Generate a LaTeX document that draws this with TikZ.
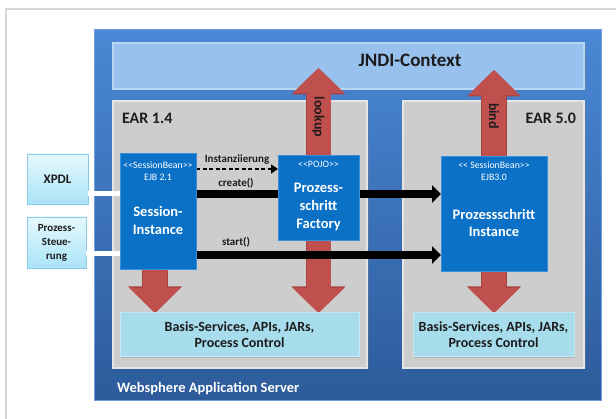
\documentclass[tikz,border=0pt]{standalone}
\usepackage{fontspec}
\setmainfont{Carlito}
\usetikzlibrary{shadows,arrows.meta}
\pgfdeclarelayer{bg}\pgfdeclarelayer{arr}\pgfsetlayers{bg,arr,main}
\definecolor{srvtop}{HTML}{4A88D5}
\definecolor{srvbot}{HTML}{2D5B9B}
\definecolor{srvedge}{HTML}{6FA0DE}
\definecolor{jndifill}{HTML}{99C1EE}
\definecolor{jndiedge}{HTML}{B9D5F4}
\definecolor{earfill}{HTML}{CDCDCD}
\definecolor{earedge}{HTML}{E6E6E6}
\definecolor{bean}{HTML}{0A71C6}
\definecolor{beanedge}{HTML}{3A8FDA}
\definecolor{redf}{HTML}{C0504D}
\definecolor{rede}{HTML}{A8433F}
\definecolor{basisfill}{HTML}{A6DCEC}
\definecolor{basisedge}{HTML}{C4E8F3}
\definecolor{ctop}{HTML}{E6F8FD}
\definecolor{cbot}{HTML}{A9E4F7}
\definecolor{cedge}{HTML}{8CCBE1}
\definecolor{framec}{HTML}{D3D7DE}
\definecolor{ink}{HTML}{1C1C1C}
\def\dlt{<\kern0pt<}
\def\dgt{>\kern0pt>}
\newcommand\fsz[2]{\fontsize{#1}{#2}\selectfont}
\begin{document}
\begin{tikzpicture}[x=1pt,y=-1pt,
  every node/.style={inner sep=0pt, outer sep=0pt},
  srvbox/.style={rectangle, draw=srvedge, line width=1pt, top color=srvtop, bottom color=srvbot},
  jndibox/.style={rectangle, draw=jndiedge, line width=1.2pt, fill=jndifill,
     drop shadow={opacity=0.35, shadow xshift=1.5pt, shadow yshift=-1.5pt}},
  earbox/.style={rectangle, draw=earedge, line width=1.5pt, fill=earfill,
     drop shadow={opacity=0.35, shadow xshift=1.5pt, shadow yshift=-1.5pt}},
  beanbox/.style={rectangle, draw=beanedge, line width=0.8pt, fill=bean,
     drop shadow={opacity=0.3, shadow xshift=1.2pt, shadow yshift=-1.2pt}},
  basisbox/.style={rectangle, draw=basisedge, line width=1pt, fill=basisfill, text=ink,
     font=\fsz{14}{16}\bfseries, align=center,
     drop shadow={opacity=0.3, shadow xshift=1.2pt, shadow yshift=-1.2pt}},
  extbox/.style={rectangle, draw=cedge, line width=0.8pt, top color=ctop, bottom color=cbot,
     text=ink, align=center},
  stereo/.style={text=white, font=\fsz{9.8}{12}, align=center},
  beantitle/.style={text=white, font=\fsz{14.5}{18}\bfseries, align=center},
  lab/.style={text=ink, font=\fsz{11}{13}\bfseries},
  fat/.style={line width=24pt, redf, -{Triangle[width=50pt 0 0,length=25pt 0 0]},
     preaction={draw=rede, line width=25.5pt, -{Triangle[width=52pt 0 0,length=26.5pt 0 0]}}},
  blk/.style={line width=8pt, black, -{Triangle[width=17pt 0 0,length=9pt 0 0]}},
  dsh/.style={line width=1.8pt, black, dash pattern=on 4pt off 2.5pt,
     -{Triangle[width=9pt 0 0,length=7pt 0 0]}},
  wline/.style={line width=5pt, white}
]
\useasboundingbox (0,0) rectangle (616,419);
% page frame
\draw[framec, line width=1.2pt] (6,419) -- (6,9) -- (616,9);

\begin{pgfonlayer}{bg}
\node[srvbox, minimum width=507pt, minimum height=371pt] (server) at (347.5,215.5) {};
\node[jndibox, minimum width=471pt, minimum height=46pt] (jndi) at (348.5,66) {};
\node[earbox, minimum width=254pt, minimum height=267pt] (ear14) at (240,234.5) {};
\node[earbox, minimum width=181pt, minimum height=267pt] (ear50) at (493.5,234.5) {};
\end{pgfonlayer}

% beans
\node[beanbox, minimum width=76pt, minimum height=116pt] (sess) at (158,211) {};
\node[beanbox, minimum width=81pt, minimum height=85pt] (pojo) at (318.5,197.5) {};
\node[beanbox, minimum width=106pt, minimum height=115pt] (ejb3) at (494,213.5) {};

% basis boxes
\node[basisbox, minimum width=239pt, minimum height=44pt] (basis1) at (239.5,335) {Basis-Services, APIs, JARs,\\Process Control};
\node[basisbox, minimum width=161pt, minimum height=44pt] (basis2) at (493.5,335) {Basis-Services, APIs, JARs,\\Process Control};

% tips and levels
\coordinate (lookuptip) at (318.5,68);
\coordinate (bindtip) at (494,70);
\coordinate (ycreate) at (0,194);
\coordinate (ystart) at (0,255);
\coordinate (ydash) at (0,169);
\coordinate (yx) at (0,193.5);
\coordinate (yp) at (0,254);
\coordinate (xsd) at (155,0);

\begin{pgfonlayer}{arr}
\draw[fat] (pojo.north) -- (lookuptip);
\draw[fat] (ejb3.north) -- (bindtip);
\draw[fat] (xsd |- sess.south) -- (xsd |- basis1.north);
\draw[fat] (pojo.south) -- (pojo.south |- basis1.north);
\draw[fat] (ejb3.south) -- (ejb3.south |- basis2.north);
\draw[blk] (sess.east |- ycreate) -- (ejb3.west |- ycreate);
\draw[blk] (sess.east |- ystart) -- (ejb3.west |- ystart);
\draw[dsh] (sess.east |- ydash) -- (pojo.west |- ydash);
\end{pgfonlayer}

% external inputs
\node[extbox, minimum width=61pt, minimum height=50pt, font=\fsz{13}{15}\bfseries] (xpdl) at (57.5,179) {XPDL};
\node[extbox, minimum width=59pt, minimum height=51pt, font=\fsz{11}{14}\bfseries] (steu) at (56.5,242.5) {Prozess-\\Steue-\\rung};
\draw[wline] (xpdl.east |- yx) -- (sess.west |- yx);
\draw[wline] (steu.east |- yp) -- (sess.west |- yp);

% bean texts
\node[stereo] (sessst) at (158,171) {\dlt SessionBean\dgt\\EJB 2.1};
\node[beantitle] (sesst) at (158,220) {Session-\\Instance};
\node[stereo] (pojost) at (318.5,164) {\dlt POJO\dgt};
\node[beantitle] (pojot) at (318.5,207) {Prozess-\\schritt\\Factory};
\node[stereo] (ejbst) at (494,171) {\dlt\ SessionBean\dgt\\EJB3.0};
\node[beantitle, font=\fsz{14.5}{17}\bfseries] (ejbt) at (494,223) {Prozessschritt\\Instance};

% labels
\node[text=ink, font=\fsz{19}{22}\bfseries] (jndil) at (410,60) {JNDI-Context};
\node[text=ink, font=\fsz{16}{18}\bfseries, anchor=west] (ear14l) at (122,118) {EAR 1.4};
\node[text=ink, font=\fsz{16}{18}\bfseries, anchor=east] (ear50l) at (576,118) {EAR 5.0};
\node[text=white, font=\fsz{14.5}{17}\bfseries, anchor=west] (srvl) at (117,389) {Websphere Application Server};
\node[text=ink, font=\fsz{14}{16}\bfseries, rotate=-90] (lookupl) at (318.5,117) {lookup};
\node[text=ink, font=\fsz{14}{16}\bfseries, rotate=-90] (bindl) at (494,116) {bind};
\node[lab] (instl) at (237,160) {Instanziierung};
\node[lab] (createl) at (236,183) {create()};
\node[lab] (startl) at (236,242) {start()};
\end{tikzpicture}
\end{document}
